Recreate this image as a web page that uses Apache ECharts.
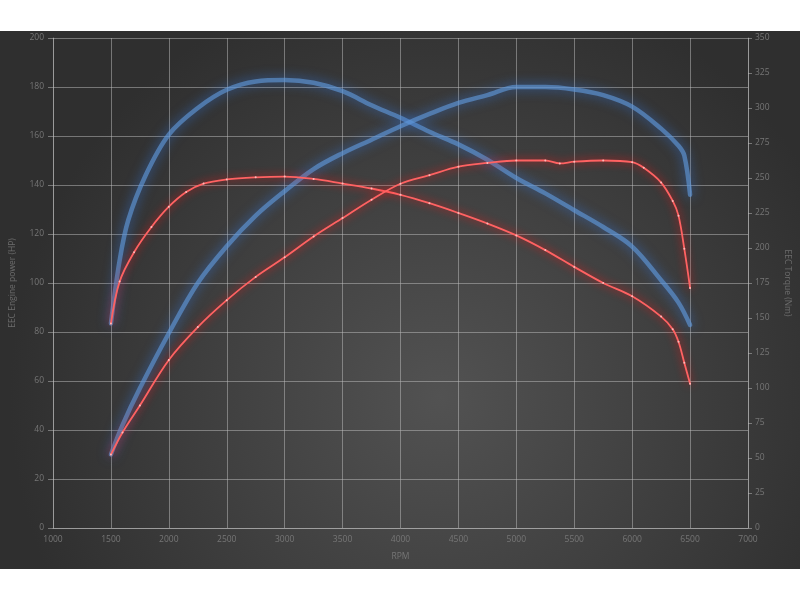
<!DOCTYPE html>
<html>
<head>
<meta charset="utf-8">
<script src="https://cdn.jsdelivr.net/npm/echarts@6/dist/echarts.min.js"></script>
<style>
html,body{margin:0;padding:0;background:#fff;width:800px;height:600px;overflow:hidden;}
#c{position:absolute;left:0;top:31px;width:800px;height:538px;}
</style>
</head>
<body>
<div id="c"></div>
<script>
// Tuned power (HP)
const tunedPowerRpm = [1500,1600,1750,2000,2250,2500,2750,3000,3250,3500,3750,4000,4250,4500,4750,5000,5250,5500,5750,6000,6250,6400,6450,6500];
const tunedPowerHp  = [30,42,57,79.5,100,115,127.5,137.5,146.5,153,158.5,164,169,173.5,176.7,180,180,179,176.7,172,163,156,152,136];
// Tuned torque (Nm)
const tunedTorqueRpm = [1500,1575,1650,1800,2000,2250,2500,2750,3000,3250,3500,3750,4000,4250,4500,4750,5000,5250,5500,5750,6000,6250,6400,6500];
const tunedTorqueNm  = [146,191,220,252,281,300,313,319,320,318,312,302,293,283,274,263,250,239,227,215,201,177,161,145];
// Stock power (HP)
const stockPowerRpm = [1500,1600,1750,2000,2250,2500,2750,3000,3250,3500,3750,4000,4250,4500,4750,5000,5250,5375,5500,5750,6000,6100,6250,6350,6400,6450,6500];
const stockPowerHp  = [30,39,50,68.6,82,93,102.5,110.5,119,126.5,134,140.5,144,147.5,149,150,150,148.8,149.5,150,149.3,147,141,133.5,127.5,114,98];
// Stock torque (Nm)
const stockTorqueRpm = [1500,1575,1700,1850,2000,2150,2300,2500,2750,3000,3250,3500,3750,4000,4250,4500,4750,5000,5250,5500,5750,6000,6250,6350,6400,6450,6500];
const stockTorqueNm  = [146,176,197,215,229.5,240,246,249,250.5,251,249.3,246,242.5,238,232,225,217.5,209,198.5,186.5,175,165.5,151,142,133,118,103];

const xTicks = {min:1000, max:7000, interval:500};
const hpTicks = {min:0, max:200, interval:20};
const nmTicks = {min:0, max:350, interval:25};

function pairs(xs, ys){ return xs.map((x,i)=>[x, ys[i]]); }

const chart = echarts.init(document.getElementById('c'));
const labelStyle = {color:'#767676', fontSize:8.5, fontFamily:'Open Sans', formatter:v=>String(v)};
const gridColor = 'rgba(190,190,190,0.5)';

function blueLine(name, data, yIdx){
  return {name, type:'line', yAxisIndex:yIdx, data, smooth:0.35,
    showSymbol:false, symbol:'none',
    lineStyle:{color:'rgba(95,150,215,0.65)', width:4.5, shadowBlur:12, shadowColor:'rgba(50,125,235,1)', cap:'round'},
    z:3};
}
function redLine(name, data, yIdx){
  return {name, type:'line', yAxisIndex:yIdx, data, smooth:0.35,
    symbol:'circle', symbolSize:2, showSymbol:true,
    itemStyle:{color:'#ffb8b8', borderWidth:0},
    lineStyle:{color:'#ff6262', width:1.8, shadowBlur:9, shadowColor:'rgba(255,20,20,1)', cap:'round'},
    z:4};
}

chart.setOption({
  backgroundColor:{type:'radial', x:0.55, y:0.68, r:0.8,
    colorStops:[{offset:0,color:'#525252'},{offset:1,color:'#2f2f2f'}]},
  animation:false,
  grid:{left:50, right:50.5, top:7, bottom:41, containLabel:false},
  xAxis:{type:'value', min:xTicks.min, max:xTicks.max, interval:xTicks.interval,
    name:'RPM', nameLocation:'middle', nameGap:24,
    nameTextStyle:{color:'#767676', fontSize:8.5, fontFamily:'Open Sans'},
    axisLine:{show:true, lineStyle:{color:gridColor}},
    axisTick:{show:false},
    axisLabel:Object.assign({margin:7}, labelStyle),
    splitLine:{show:true, lineStyle:{color:gridColor, width:1}}},
  yAxis:[
    {type:'value', position:'left', min:hpTicks.min, max:hpTicks.max, interval:hpTicks.interval,
      name:'EEC Engine power (HP)', nameLocation:'middle', nameGap:36,
      nameTextStyle:{color:'#6c6c6c', fontSize:8.5, fontFamily:'Open Sans'},
      axisLine:{show:true, lineStyle:{color:gridColor}},
      axisTick:{show:true, length:5, lineStyle:{color:gridColor}},
      axisLabel:Object.assign({margin:9}, labelStyle),
      splitLine:{show:true, lineStyle:{color:gridColor, width:1}}},
    {type:'value', position:'right', min:nmTicks.min, max:nmTicks.max, interval:nmTicks.interval,
      name:'EEC Torque (Nm)', nameLocation:'middle', nameGap:35, nameRotate:-90,
      nameTextStyle:{color:'#6c6c6c', fontSize:8.5, fontFamily:'Open Sans'},
      axisLine:{show:true, lineStyle:{color:gridColor}},
      axisTick:{show:true, length:4, lineStyle:{color:gridColor}},
      axisLabel:Object.assign({margin:7}, labelStyle),
      splitLine:{show:false}}
  ],
  series:[
    blueLine('Tuned torque', pairs(tunedTorqueRpm, tunedTorqueNm), 1),
    blueLine('Tuned power', pairs(tunedPowerRpm, tunedPowerHp), 0),
    redLine('Stock torque', pairs(stockTorqueRpm, stockTorqueNm), 1),
    redLine('Stock power', pairs(stockPowerRpm, stockPowerHp), 0)
  ]
});
</script>
</body>
</html>
